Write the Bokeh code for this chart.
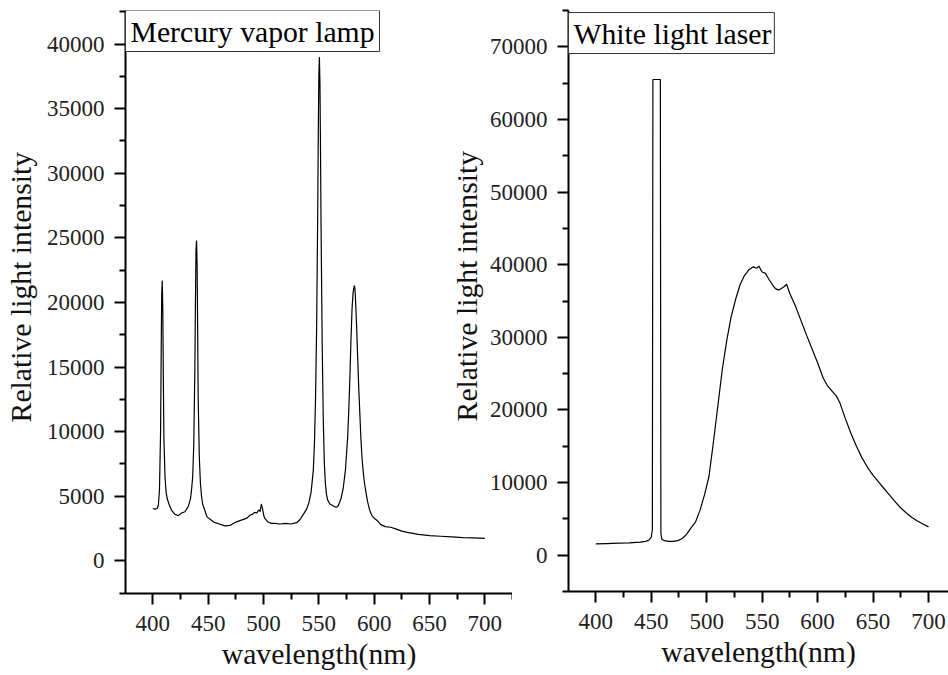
from bokeh.plotting import figure
from bokeh.models import Range1d, FixedTicker, Label, Row
from bokeh.embed import file_html
from bokeh.resources import INLINE

# ---------------- data ----------------
# Mercury vapor lamp spectrum (wavelength nm, relative intensity)
hg_wavelength = [400, 402, 404, 405, 406, 407, 407.5, 408, 408.5, 409, 409.5, 410, 411, 412, 413,
                 415, 417, 420, 423, 426, 429, 432, 434, 435, 436, 437, 438, 438.5, 439, 439.5,
                 440, 440.5, 441, 442, 443, 444, 445, 447, 449, 452, 455, 460, 465, 470, 475,
                 480, 485, 488, 490, 492, 494, 495, 496, 497, 498, 499, 500, 501, 502, 504,
                 507, 510, 515, 520, 525, 530, 533, 536, 539, 541, 543, 545, 546, 547, 548,
                 549, 549.5, 550, 550.5, 551, 551.5, 552, 553, 554, 555, 556, 557, 558, 560,
                 562, 564, 566, 567, 568, 570, 572, 574, 576, 577, 578, 579, 580, 581, 582,
                 582.5, 583, 584, 585, 586, 587, 588, 589, 590, 591, 592, 594, 596, 598, 600,
                 603, 606, 610, 615, 620, 625, 630, 640, 650, 660, 670, 680, 690, 700]
hg_intensity = [4050, 4000, 4050, 4300, 5500, 10000, 15500, 20500, 21700, 19500, 14000, 9500, 6500, 5300, 4800,
                4300, 3900, 3600, 3500, 3700, 3800, 4200, 4800, 5500, 6500, 9000, 15000, 20000, 24000, 24800,
                23000, 18000, 12500, 8000, 6000, 5000, 4400, 3900, 3400, 3200, 3000, 2850, 2700, 2750, 3000,
                3150, 3300, 3550, 3600, 3750, 3700, 3850, 3950, 3800, 4400, 4100, 3600, 3300, 3200, 3000,
                2900, 2900, 2850, 2900, 2850, 2950, 3200, 3600, 4000, 4500, 5300, 7000, 9000, 12500, 18000,
                27000, 33000, 37500, 39000, 37000, 32000, 26000, 17000, 11000, 7500, 5900, 5100, 4700, 4400,
                4300, 4200, 4150, 4200, 4350, 4800, 5600, 7000, 9500, 11500, 14000, 17000, 19500, 20800, 21300,
                21200, 20500, 18500, 16000, 13500, 11500, 9500, 8000, 7000, 6200, 5600, 4600, 3900, 3500, 3300,
                3100, 2800, 2650, 2600, 2450, 2300, 2200, 2050, 1950, 1900, 1850, 1800, 1780, 1730]

# White light laser spectrum
wl_wavelength = [400, 410, 420, 430, 440, 445, 448, 450, 451, 451.5, 458.2, 458.7, 459.5, 462, 466,
                 470, 474, 478, 482, 486, 490, 494, 498, 502, 506, 510, 514, 518, 522, 526,
                 530, 534, 538, 542, 545, 547, 550, 553, 556, 559, 562, 565, 568, 570, 572,
                 575, 580, 585, 590, 595, 600, 605, 609, 613, 617, 620, 625, 630, 635, 640,
                 645, 650, 657, 663, 669, 675, 680, 685, 690, 695, 700]
wl_intensity = [1550, 1600, 1650, 1700, 1800, 1900, 2100, 2500, 3500, 65500, 65500, 3000, 2200, 2000, 1900,
                1900, 2000, 2300, 2900, 3800, 4600, 6200, 8300, 10800, 15500, 20500, 25500, 29500, 32800, 35200,
                37200, 38500, 39300, 39700, 39500, 39800, 39000, 38800, 38000, 37300, 36700, 36500, 36800, 37000, 37300,
                36000, 34300, 32300, 30300, 28400, 26500, 24400, 23300, 22600, 21900, 21000, 18800, 16800, 15000, 13400,
                12100, 11000, 9700, 8600, 7500, 6500, 5800, 5200, 4700, 4300, 3900]

x_major = [400, 450, 500, 550, 600, 650, 700]
x_minor = [375, 425, 475, 525, 575, 625, 675, 725]
hg_y_major = [0, 5000, 10000, 15000, 20000, 25000, 30000, 35000, 40000]
hg_y_minor = [-2500, 2500, 7500, 12500, 17500, 22500, 27500, 32500, 37500, 42500]
wl_y_major = [0, 10000, 20000, 30000, 40000, 50000, 60000, 70000]
wl_y_minor = [-5000, 5000, 15000, 25000, 35000, 45000, 55000, 65000, 75000]

x_title = "wavelength(nm)"
y_title = "Relative light intensity"

FONT = "Liberation Serif"
LABEL_SIZE = "29.7px"


def style(p, xmaj, xmin, ymaj, ymin, ylabel_standoff):
    p.grid.visible = False
    p.outline_line_color = None
    p.xaxis.ticker = FixedTicker(ticks=xmaj, minor_ticks=xmin)
    p.yaxis.ticker = FixedTicker(ticks=ymaj, minor_ticks=ymin)
    for ax in (p.xaxis[0], p.yaxis[0]):
        ax.axis_line_width = 2
        ax.axis_line_color = "black"
        ax.major_tick_line_width = 2
        ax.minor_tick_line_width = 2
        ax.major_tick_line_color = "black"
        ax.minor_tick_line_color = "black"
        ax.major_tick_in = 0
        ax.major_tick_out = 11
        ax.minor_tick_in = 0
        ax.minor_tick_out = 6
        ax.major_label_text_font = FONT
        ax.major_label_text_font_size = "23px"
        ax.major_label_text_color = "#222222"
        ax.axis_label_text_font = FONT
        ax.axis_label_text_font_size = LABEL_SIZE
        ax.axis_label_text_font_style = "normal"
        ax.axis_label_text_color = "#111111"
    p.xaxis[0].major_label_standoff = 11
    p.xaxis[0].axis_label_standoff = 4
    p.xaxis[0].axis_label = x_title
    p.yaxis[0].major_label_standoff = 10
    p.yaxis[0].axis_label_standoff = ylabel_standoff
    # leading no-break spaces lift the centred label a little, as in the original
    p.yaxis[0].axis_label = "\u00a0\u00a0\u00a0\u00a0" + y_title


# ---------------- left panel ----------------
p1 = figure(output_backend="svg", toolbar_location=None,
            frame_width=387, frame_height=583,
            min_border_left=125, min_border_right=0, min_border_top=9, min_border_bottom=80,
            x_range=Range1d(375.3, 725.0), y_range=Range1d(-2530, 42600))
style(p1, x_major, x_minor, hg_y_major, hg_y_minor, 7)
p1.line(hg_wavelength, hg_intensity, line_color="black", line_width=1.2)
p1.add_layout(Label(x=375.3, y=42600, text="Mercury vapor lamp", anchor="top_left",
                    text_font=FONT, text_font_size=LABEL_SIZE, text_color="black",
                    padding=dict(left=5, right=5, top=5, bottom=4),
                    border_line_color="#333333", border_line_width=1,
                    background_fill_color="white"))

# ---------------- right panel ----------------
p2 = figure(output_backend="svg", toolbar_location=None,
            frame_width=380, frame_height=581,
            min_border_left=130, min_border_right=0, min_border_top=10, min_border_bottom=81,
            x_range=Range1d(375.4, 718.0), y_range=Range1d(-5000, 75000))
style(p2, x_major, x_minor, wl_y_major, wl_y_minor, 4)
p2.border_fill_color = None
p2.background_fill_color = None
p2.line(wl_wavelength, wl_intensity, line_color="black", line_width=1.2)
p2.add_layout(Label(x=375.4, y=74720, text="White light laser", anchor="top_left",
                    text_font=FONT, text_font_size=LABEL_SIZE, text_color="black",
                    padding=dict(left=5, right=3, top=5, bottom=4),
                    border_line_color="#333333", border_line_width=1,
                    background_fill_color="white"))
p2.margin = (0, 0, 0, -74)

layout = Row(children=[p1, p2], spacing=0)

open("out.html", "w").write(file_html(layout, INLINE))
